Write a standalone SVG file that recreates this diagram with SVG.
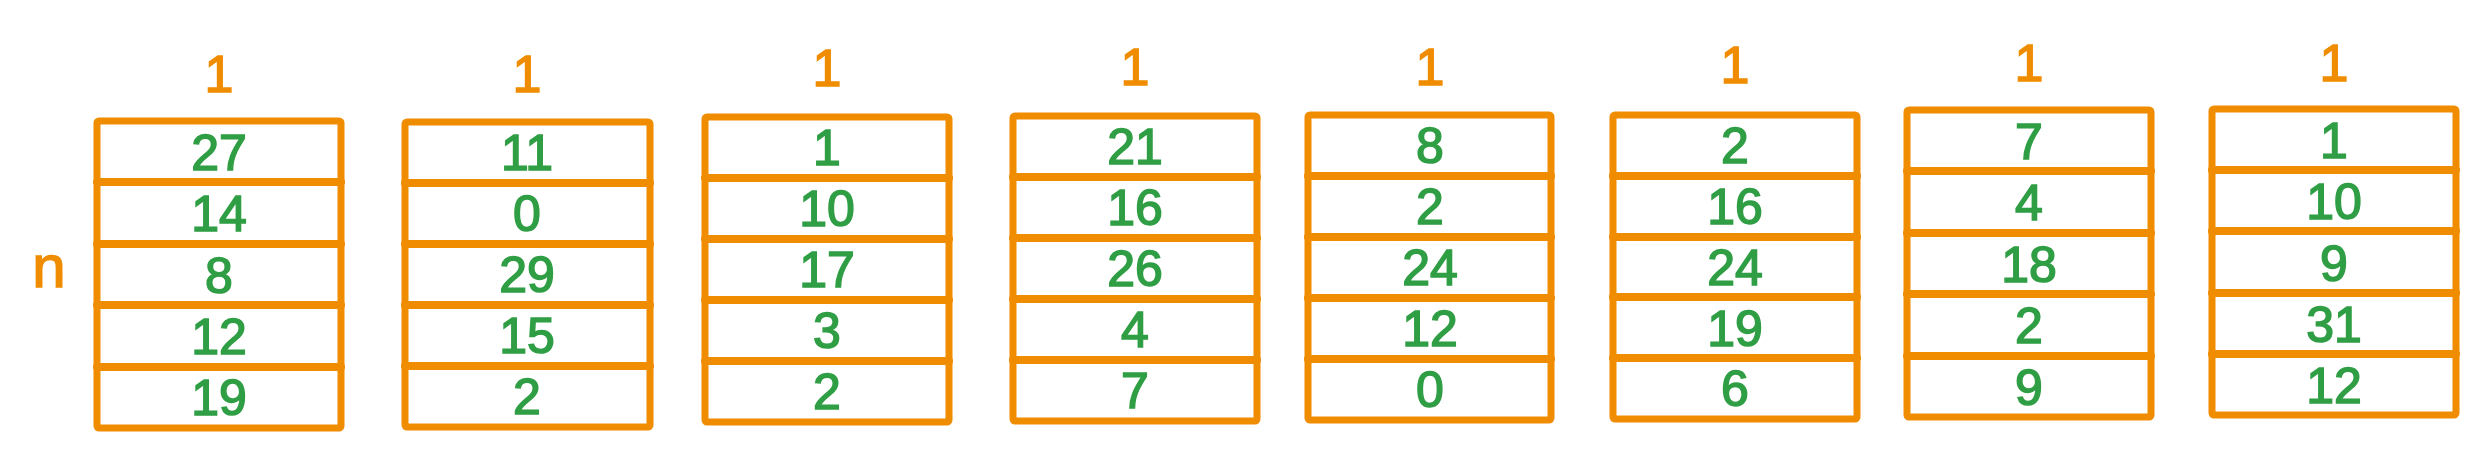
<svg xmlns="http://www.w3.org/2000/svg" width="2484" height="460" viewBox="0 0 2484 460">
<style>
.box{fill:#ffffff;stroke:#f08c00;stroke-width:7;stroke-linejoin:round}
.sep{stroke:#f08c00;stroke-width:8;stroke-linecap:round}
.v{font-family:"Liberation Sans",Arial,sans-serif;font-size:50px;fill:#2f9e44;stroke:#2f9e44;stroke-width:1.5;text-anchor:middle}
.lbl{font-family:"Liberation Sans",Arial,sans-serif;font-size:52px;fill:#f08c00;stroke:#f08c00;stroke-width:1.5;text-anchor:middle}
</style>
<rect width="2484" height="460" fill="#ffffff"/>
<text id="n-label" class="lbl" x="49" y="287" style="font-size:60px">n</text>
<g id="col1">
<text class="lbl" x="219" y="92">1</text>
<rect class="box" x="97" y="121" width="244" height="307" rx="2"/>
<line class="sep" x1="97" y1="182" x2="341" y2="182"/>
<line class="sep" x1="97" y1="244" x2="341" y2="244"/>
<line class="sep" x1="97" y1="305" x2="341" y2="305"/>
<line class="sep" x1="97" y1="367" x2="341" y2="367"/>
<text class="v" x="219" y="170">27</text>
<text class="v" x="219" y="231">14</text>
<text class="v" x="219" y="293">8</text>
<text class="v" x="219" y="354">12</text>
<text class="v" x="219" y="415">19</text>
</g>
<g id="col2">
<text class="lbl" x="527" y="92">1</text>
<rect class="box" x="405" y="122" width="245" height="305" rx="2"/>
<line class="sep" x1="405" y1="183" x2="650" y2="183"/>
<line class="sep" x1="405" y1="244" x2="650" y2="244"/>
<line class="sep" x1="405" y1="305" x2="650" y2="305"/>
<line class="sep" x1="405" y1="366" x2="650" y2="366"/>
<text class="v" x="527" y="170">11</text>
<text class="v" x="527" y="231">0</text>
<text class="v" x="527" y="292">29</text>
<text class="v" x="527" y="353">15</text>
<text class="v" x="527" y="414">2</text>
</g>
<g id="col3">
<text class="lbl" x="827" y="86">1</text>
<rect class="box" x="705" y="117" width="244" height="305" rx="2"/>
<line class="sep" x1="705" y1="178" x2="949" y2="178"/>
<line class="sep" x1="705" y1="239" x2="949" y2="239"/>
<line class="sep" x1="705" y1="300" x2="949" y2="300"/>
<line class="sep" x1="705" y1="361" x2="949" y2="361"/>
<text class="v" x="827" y="165">1</text>
<text class="v" x="827" y="226">10</text>
<text class="v" x="827" y="287">17</text>
<text class="v" x="827" y="348">3</text>
<text class="v" x="827" y="409">2</text>
</g>
<g id="col4">
<text class="lbl" x="1135" y="85">1</text>
<rect class="box" x="1013" y="116" width="244" height="305" rx="2"/>
<line class="sep" x1="1013" y1="177" x2="1257" y2="177"/>
<line class="sep" x1="1013" y1="238" x2="1257" y2="238"/>
<line class="sep" x1="1013" y1="299" x2="1257" y2="299"/>
<line class="sep" x1="1013" y1="360" x2="1257" y2="360"/>
<text class="v" x="1135" y="164">21</text>
<text class="v" x="1135" y="225">16</text>
<text class="v" x="1135" y="286">26</text>
<text class="v" x="1135" y="347">4</text>
<text class="v" x="1135" y="408">7</text>
</g>
<g id="col5">
<text class="lbl" x="1430" y="85">1</text>
<rect class="box" x="1308" y="115" width="243" height="305" rx="2"/>
<line class="sep" x1="1308" y1="176" x2="1551" y2="176"/>
<line class="sep" x1="1308" y1="237" x2="1551" y2="237"/>
<line class="sep" x1="1308" y1="298" x2="1551" y2="298"/>
<line class="sep" x1="1308" y1="359" x2="1551" y2="359"/>
<text class="v" x="1430" y="163">8</text>
<text class="v" x="1430" y="224">2</text>
<text class="v" x="1430" y="285">24</text>
<text class="v" x="1430" y="346">12</text>
<text class="v" x="1430" y="407">0</text>
</g>
<g id="col6">
<text class="lbl" x="1735" y="83">1</text>
<rect class="box" x="1613" y="115" width="244" height="304" rx="2"/>
<line class="sep" x1="1613" y1="176" x2="1857" y2="176"/>
<line class="sep" x1="1613" y1="237" x2="1857" y2="237"/>
<line class="sep" x1="1613" y1="297" x2="1857" y2="297"/>
<line class="sep" x1="1613" y1="358" x2="1857" y2="358"/>
<text class="v" x="1735" y="163">2</text>
<text class="v" x="1735" y="224">16</text>
<text class="v" x="1735" y="285">24</text>
<text class="v" x="1735" y="346">19</text>
<text class="v" x="1735" y="406">6</text>
</g>
<g id="col7">
<text class="lbl" x="2029" y="81">1</text>
<rect class="box" x="1907" y="110" width="244" height="307" rx="2"/>
<line class="sep" x1="1907" y1="171" x2="2151" y2="171"/>
<line class="sep" x1="1907" y1="233" x2="2151" y2="233"/>
<line class="sep" x1="1907" y1="294" x2="2151" y2="294"/>
<line class="sep" x1="1907" y1="356" x2="2151" y2="356"/>
<text class="v" x="2029" y="159">7</text>
<text class="v" x="2029" y="220">4</text>
<text class="v" x="2029" y="282">18</text>
<text class="v" x="2029" y="343">2</text>
<text class="v" x="2029" y="405">9</text>
</g>
<g id="col8">
<text class="lbl" x="2334" y="81">1</text>
<rect class="box" x="2212" y="109" width="244" height="306" rx="2"/>
<line class="sep" x1="2212" y1="170" x2="2456" y2="170"/>
<line class="sep" x1="2212" y1="231" x2="2456" y2="231"/>
<line class="sep" x1="2212" y1="293" x2="2456" y2="293"/>
<line class="sep" x1="2212" y1="354" x2="2456" y2="354"/>
<text class="v" x="2334" y="158">1</text>
<text class="v" x="2334" y="219">10</text>
<text class="v" x="2334" y="281">9</text>
<text class="v" x="2334" y="342">31</text>
<text class="v" x="2334" y="403">12</text>
</g>
</svg>
